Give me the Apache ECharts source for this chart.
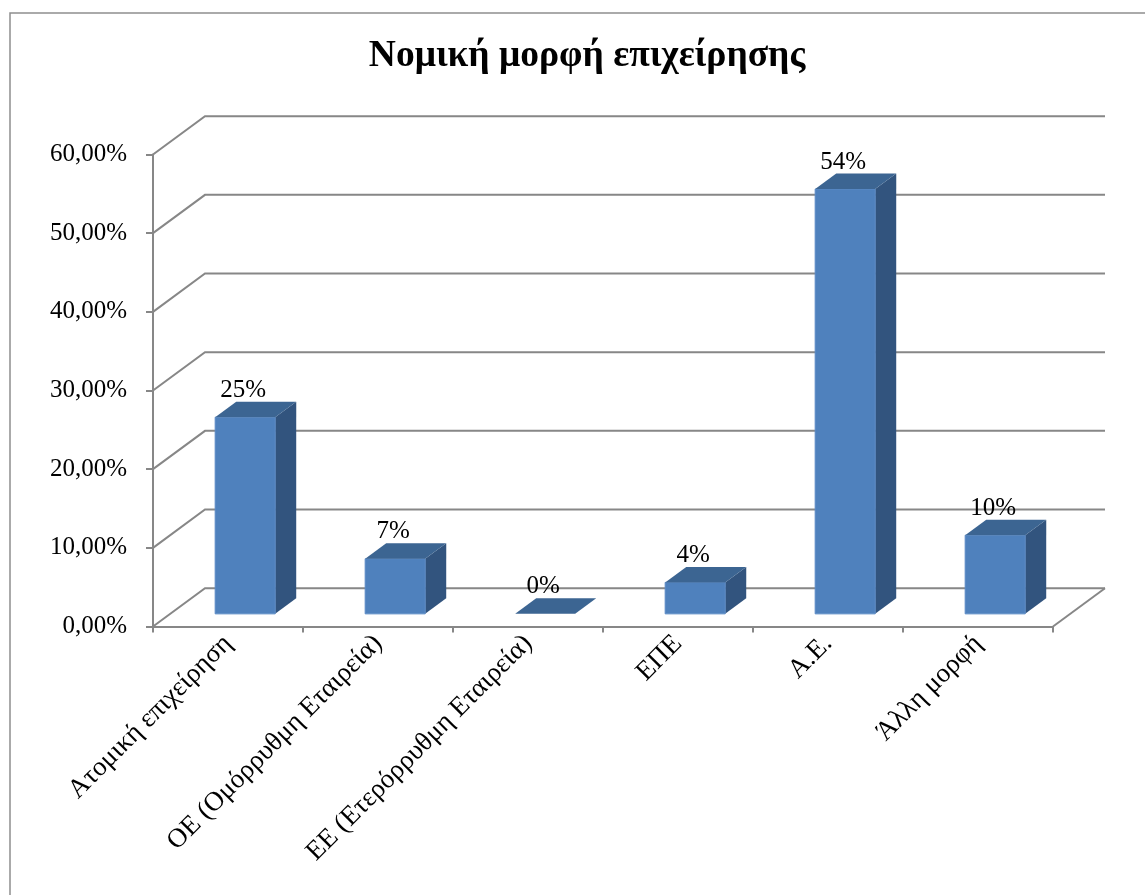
<!DOCTYPE html>
<html>
<head>
<meta charset="utf-8">
<title>Νομική μορφή επιχείρησης</title>
<script src="https://cdn.jsdelivr.net/npm/echarts@6/dist/echarts.min.js"></script>
<style>
  html, body { margin: 0; padding: 0; background: #ffffff; }
  #chart { width: 1145px; height: 895px; }
</style>
</head>
<body>
<div id="chart"></div>
<script>
// Data
const categories = [
  'Ατομική επιχείρηση',
  'ΟΕ (Ομόρρυθμη Εταιρεία)',
  'ΕΕ (Ετερόρρυθμη Εταιρεία)',
  'ΕΠΕ',
  'Α.Ε.',
  'Άλλη μορφή'
];
const shares = [25, 7, 0, 4, 54, 10];
const yTicks = [0, 10, 20, 30, 40, 50, 60];
const yTickLabels = ['0,00%', '10,00%', '20,00%', '30,00%', '40,00%', '50,00%', '60,00%'];
const titleText = 'Νομική μορφή επιχείρησης';

// 3D look: depth of the plot box and placement of the columns inside it
const DEPTH_X = 52, DEPTH_Y = 38.3;
const FRONT_GAP = 0.33;   // fraction of the depth in front of the columns
const BAR_DEPTH = 0.405;  // fraction of the depth taken by a column
const BAR_WIDTH = 0.4;    // fraction of the category band
const FONT = "'Liberation Serif', 'Times New Roman', serif";
const GRID_COLOR = '#878787';

const chart = echarts.init(document.getElementById('chart'), null, { renderer: 'canvas' });

// Back wall, left wall and floor edges, one gridline per y tick
function renderWall(params, api) {
  const cs = params.coordSys;
  const v = api.value(1);
  const y = api.coord([0, v])[1];
  const xl = cs.x, xr = cs.x + cs.width;
  const children = [{
    type: 'polyline',
    shape: { points: [[xl, y], [xl + DEPTH_X, y - DEPTH_Y], [xr + DEPTH_X, y - DEPTH_Y]] },
    style: { stroke: GRID_COLOR, lineWidth: 2, fill: null }
  }];
  if (v === yTicks[0]) {
    children.push({
      type: 'line',
      shape: { x1: xr, y1: y, x2: xr + DEPTH_X, y2: y - DEPTH_Y },
      style: { stroke: GRID_COLOR, lineWidth: 2 }
    });
  }
  return { type: 'group', children };
}

// A column drawn as a box: front, right side, top, plus its value label
function renderColumn(params, api) {
  const idx = api.value(0);
  const v = api.value(1);
  const base = api.coord([idx, 0]);
  const top = api.coord([idx, v]);
  const band = api.size([1, 0])[0];
  const w = band * BAR_WIDTH;
  const ox = FRONT_GAP * DEPTH_X, oy = FRONT_GAP * DEPTH_Y;
  const bx = BAR_DEPTH * DEPTH_X, by = BAR_DEPTH * DEPTH_Y;
  const x0 = base[0] + ox - w / 2, x1 = x0 + w;
  const yb = base[1] - oy, yt = top[1] - oy;
  const children = [];
  if (yb - yt > 0.5) {
    children.push({
      type: 'polygon',
      shape: { points: [[x1, yb], [x1 + bx, yb - by], [x1 + bx, yt - by], [x1, yt]] },
      style: { fill: '#32547E' }
    });
    children.push({
      type: 'rect',
      shape: { x: x0, y: yt, width: w, height: yb - yt },
      style: { fill: '#4F81BD', stroke: '#5B8BC6', lineWidth: 1 }
    });
  }
  children.push({
    type: 'polygon',
    shape: { points: [[x0, yt], [x1, yt], [x1 + bx, yt - by], [x0 + bx, yt - by]] },
    style: { fill: '#3C6592' }
  });
  children.push({
    type: 'text',
    style: {
      text: v + '%',
      x: x0 + w / 2 - 2,
      y: yt - by + 1,
      align: 'center',
      verticalAlign: 'bottom',
      font: '25px ' + FONT,
      fill: '#000000'
    }
  });
  return { type: 'group', children };
}

const option = {
  animation: false,
  backgroundColor: '#ffffff',
  graphic: [
    {
      type: 'rect',
      silent: true,
      shape: { x: 10, y: 13, width: 1300, height: 1000 },
      style: { fill: null, stroke: '#8e8e8e', lineWidth: 1.5 },
      z: -10
    },
    {
      type: 'text',
      silent: true,
      style: {
        text: titleText,
        x: 587,
        y: 56,
        align: 'center',
        verticalAlign: 'middle',
        font: 'bold 37.5px ' + FONT,
        fill: '#000000'
      }
    }
  ],
  grid: { left: 153, right: 92, top: 154.5, bottom: 268.5, containLabel: false },
  xAxis: {
    type: 'category',
    data: categories,
    axisLine: { show: true, lineStyle: { color: GRID_COLOR, width: 2 } },
    axisTick: { show: true, length: 6, lineStyle: { color: GRID_COLOR, width: 2 } },
    axisLabel: {
      interval: 0,
      rotate: 45,
      margin: 13,
      color: '#000000',
      fontFamily: FONT,
      fontSize: 27
    },
    splitLine: { show: false }
  },
  yAxis: {
    type: 'value',
    min: 0,
    max: 60,
    interval: 10,
    axisLine: { show: true, lineStyle: { color: GRID_COLOR, width: 2 } },
    axisTick: { show: true, length: 7, lineStyle: { color: GRID_COLOR, width: 2 } },
    axisLabel: {
      margin: 26,
      color: '#000000',
      fontFamily: FONT,
      fontSize: 25,
      formatter: function (val) {
        const i = yTicks.indexOf(val);
        return i >= 0 ? yTickLabels[i] : '';
      }
    },
    splitLine: { show: false }
  },
  series: [
    {
      type: 'custom',
      name: 'walls',
      clip: false,
      silent: true,
      z: 1,
      renderItem: renderWall,
      data: yTicks.map(function (t) { return [0, t]; }),
      encode: { x: 0, y: 1 }
    },
    {
      type: 'custom',
      name: 'Νομική μορφή',
      clip: false,
      z: 3,
      renderItem: renderColumn,
      data: shares.map(function (v, i) { return [i, v]; }),
      encode: { x: 0, y: 1 }
    }
  ]
};

chart.setOption(option);
</script>
</body>
</html>
